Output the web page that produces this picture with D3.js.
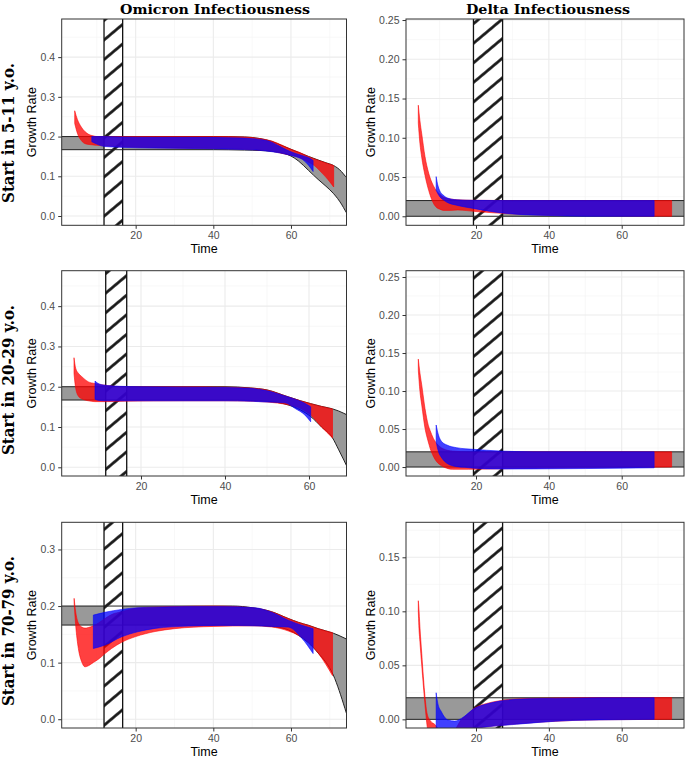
<!DOCTYPE html>
<html>
<head>
<meta charset="utf-8">
<script src="https://cdn.jsdelivr.net/npm/d3@7"></script>
<style>
  body { margin: 0; background: #fff; }
  svg { display: block; }
</style>
</head>
<body>
<svg id="chart"></svg>
<script>
// growth-rate bands, one ribbon per row: [time, lower, upper]
var colTitles = ['Omicron Infectiousness', 'Delta Infectiousness'];
var rowTitles = ['Start in 5-11 y.o.', 'Start in 20-29 y.o.', 'Start in 70-79 y.o.'];

// --- Omicron, 5-11
var omi511Gray = [[0,0.167,0.2],[40,0.167,0.2],[48,0.166,0.199],[52,0.165,0.195],[55,0.163,0.188],[58,0.158,0.176],[60,0.151,0.168],[62,0.138,0.16],[64.5,0.115,0.15],[67,0.092,0.141],[69,0.075,0.134],[71,0.056,0.127],[73,0.03,0.112],[74,0.013,0.1],[76,-0.02,0.08]];
var omi511Red = [[4.3,0.233,0.265],[5,0.208,0.243],[6,0.19,0.224],[7,0.182,0.212],[8,0.18,0.205],[9,0.179,0.202],[10,0.178,0.2],[15,0.175,0.2],[25,0.172,0.2],[40,0.17,0.2],[48,0.168,0.199],[52,0.166,0.195],[55,0.163,0.189],[58,0.157,0.177],[60,0.153,0.168],[62,0.148,0.161],[64,0.138,0.152],[66,0.127,0.144],[68,0.108,0.137],[69.5,0.092,0.132],[71,0.073,0.127]];
var omi511Blue = [[8.7,0.187,0.2],[10,0.181,0.2],[12,0.175,0.2],[16,0.173,0.199],[25,0.171,0.198],[34,0.17,0.198],[45,0.168,0.197],[51,0.166,0.194],[55,0.162,0.186],[57,0.159,0.176],[59,0.155,0.166],[61,0.15,0.158],[63,0.142,0.152],[64.5,0.128,0.147],[65.7,0.112,0.14]];

// --- Delta, 5-11
var del511Gray = [[0,0,0.02],[80,0,0.02]];
var del511Red = [[4.16,0.1185,0.1415],[4.6,0.093,0.122],[5.1,0.075,0.105],[6,0.052,0.076],[7,0.033,0.055],[8.3,0.0166,0.039],[9.2,0.011,0.032],[10.1,0.009,0.028],[11,0.0075,0.0246],[13,0.0075,0.022],[15,0.008,0.021],[20,0.006,0.0203],[30,0.003,0.02],[45,0.001,0.02],[73.7,0,0.02]];
var del511Blue = [[9.06,0.0333,0.0505],[9.5,0.029,0.04],[10.1,0.0247,0.032],[11,0.021,0.027],[12,0.018,0.0235],[14.7,0.014,0.021],[19.3,0.01,0.0203],[25,0.0055,0.0201],[30,0.003,0.02],[40,0.001,0.02],[50,0,0.02],[68.9,0,0.02]];

// --- Omicron, 20-29
var omi2029Gray = [[0,0.167,0.2],[40,0.167,0.2],[46,0.166,0.197],[50,0.164,0.192],[55,0.155,0.175],[58,0.142,0.165],[60.4,0.126,0.158],[63,0.1,0.151],[65.6,0.073,0.145],[67,0.045,0.14],[68.3,0.018,0.134],[70,-0.02,0.125]];
var omi2029Red = [[4.05,0.233,0.272],[4.45,0.196,0.246],[5.2,0.175,0.232],[5.9,0.17,0.225],[7.5,0.165,0.212],[9,0.163,0.208],[12,0.163,0.203],[16,0.164,0.2],[30,0.165,0.2],[40,0.165,0.199],[46,0.164,0.197],[50,0.162,0.192],[55,0.155,0.175],[58,0.146,0.165],[60.4,0.13,0.158],[63,0.1,0.151],[65.6,0.073,0.145]];
var omi2029Blue = [[9.05,0.169,0.214],[10,0.166,0.207],[12,0.165,0.203],[15,0.165,0.201],[20,0.165,0.2],[40,0.165,0.198],[46,0.164,0.196],[50,0.162,0.19],[54.3,0.16,0.177],[56.7,0.146,0.169],[59,0.13,0.159],[60.4,0.113,0.15]];

// --- Delta, 20-29
var del2029Gray = [[0,0,0.02],[80,0,0.02]];
var del2029Red = [[4.16,0.1276,0.142],[4.6,0.1,0.124],[5.1,0.0816,0.108],[6,0.051,0.077],[6.9,0.033,0.055],[7.4,0.0246,0.048],[8.3,0.014,0.0377],[9.2,0.007,0.031],[10.1,0.003,0.0267],[11,0.0004,0.024],[13.6,-0.003,0.021],[18,-0.003,0.02],[30,-0.002,0.02],[50,-0.001,0.02],[73.7,0,0.02]];
var del2029Blue = [[9.06,0.033,0.0553],[9.7,0.0201,0.042],[10.6,0.012,0.0333],[12,0.005,0.029],[14.7,0.0005,0.0254],[17,-0.0004,0.024],[19.3,-0.0015,0.0233],[26.6,-0.0026,0.021],[35.7,-0.0025,0.0201],[50,-0.002,0.02],[68.9,-0.001,0.02]];

// --- Omicron, 70-79
var omi7079Gray = [[0,0.1664,0.2],[45,0.1664,0.2],[50,0.166,0.197],[55,0.164,0.19],[59.3,0.158,0.178],[62,0.148,0.171],[64.5,0.135,0.166],[67,0.117,0.16],[70.9,0.078,0.152],[73.9,0.019,0.143],[76,-0.03,0.135]];
var omi7079Red = [[4.15,0.205,0.2136],[4.55,0.166,0.19],[5.24,0.125,0.17],[6.1,0.1015,0.163],[6.95,0.0926,0.161],[7.8,0.0944,0.162],[9.1,0.1003,0.165],[10.4,0.106,0.17],[12.1,0.116,0.178],[13.8,0.125,0.185],[16.4,0.136,0.19],[20,0.146,0.196],[25,0.155,0.198],[30,0.16,0.199],[40,0.164,0.2],[50,0.165,0.197],[55,0.163,0.19],[59.3,0.156,0.178],[62,0.148,0.171],[64.5,0.136,0.166],[67,0.117,0.16],[70.7,0.077,0.153]];
var omi7079Blue = [[9.1,0.125,0.184],[12.1,0.131,0.189],[16.4,0.1457,0.194],[20.5,0.1545,0.197],[25,0.1605,0.198],[33.6,0.1646,0.199],[42.2,0.1658,0.199],[50.7,0.165,0.197],[55,0.164,0.189],[59.3,0.1628,0.175],[62.8,0.143,0.166],[65.7,0.116,0.16]];

// --- Delta, 70-79
var del7079Gray = [[0,0,0.02],[80,0,0.02]];
var del7079Red = [[4.16,0.1,0.1098],[4.3,0.087,0.104],[4.6,0.072,0.0857],[5.1,0.05,0.0611],[5.55,0.031,0.0394],[6,0.0132,0.0209],[6.6,-0.0068,0.005],[7.4,-0.018,-0.001],[8.8,-0.028,-0.005],[10,-0.032,-0.01],[12,-0.03,-0.012],[14,-0.025,-0.01],[16,-0.018,0.0],[17.5,-0.013,0.004],[19.3,-0.0085,0.0098],[22.9,-0.0068,0.0147],[26.6,-0.0055,0.0173],[31.2,-0.0042,0.0189],[40.4,-0.002,0.0197],[54,-0.0004,0.0202],[73.7,0,0.0202]];
var del7079Blue = [[9.06,-0.012,0.0246],[9.5,-0.013,0.015],[10.5,-0.014,0.007],[12.3,-0.0145,-0.0006],[14.1,-0.014,-0.0016],[16,-0.012,0.0009],[19.6,-0.0085,0.0102],[22.9,-0.007,0.0142],[26.6,-0.0058,0.0169],[31.2,-0.0045,0.0185],[37.3,-0.0028,0.0192],[46.4,-0.001,0.0196],[54,-0.0005,0.02],[68.9,0,0.02]];

// shaded (hatched) windows
var omiHatch = [11.85, 16.65];
var omi2029Hatch = [11.6, 16.6];
var delHatch = [19.3, 27.3];

// axis ticks
var omiTicks = [0, 0.1, 0.2, 0.3, 0.4];
var omi7079Ticks = [0, 0.1, 0.2, 0.3];
var delTicks = [0, 0.05, 0.1, 0.15, 0.2, 0.25];
var del7079Ticks = [0, 0.05, 0.1, 0.15];
var timeTicks = [20, 40, 60];
var timeMinor = [0, 10, 30, 50, 70];

var svgwidth = 685, svgheight = 757;
var svg = d3.select('#chart').attr('width', svgwidth).attr('height', svgheight);

var colX = [[61.7, 346.5], [406, 684]];
var rowY = [[19, 225.3], [270.7, 476], [522.3, 728]];

var panels = [
  {row:0, col:0, gray:omi511Gray, red:omi511Red, blue:omi511Blue, hatch:omiHatch, xDom:[0.95,74.3], yDom:[-0.0234,0.496], ticks:omiTicks, fmt:'.1f'},
  {row:0, col:1, gray:del511Gray, red:del511Red, blue:del511Blue, hatch:delHatch, xDom:[0.78,77.1], yDom:[-0.0115,0.2513], ticks:delTicks, fmt:'.2f'},
  {row:1, col:0, gray:omi2029Gray, red:omi2029Red, blue:omi2029Blue, hatch:omi2029Hatch, xDom:[1.12,68.93], yDom:[-0.0216,0.488], ticks:omiTicks, fmt:'.1f'},
  {row:1, col:1, gray:del2029Gray, red:del2029Red, blue:del2029Blue, hatch:delHatch, xDom:[0.78,77.1], yDom:[-0.0118,0.2583], ticks:delTicks, fmt:'.2f'},
  {row:2, col:0, gray:omi7079Gray, red:omi7079Red, blue:omi7079Blue, hatch:omiHatch, xDom:[0.95,74.3], yDom:[-0.0155,0.348], ticks:omi7079Ticks, fmt:'.1f'},
  {row:2, col:1, gray:del7079Gray, red:del7079Red, blue:del7079Blue, hatch:delHatch, xDom:[0.78,77.1], yDom:[-0.008,0.1824], ticks:del7079Ticks, fmt:'.2f'}
];

var defs = svg.append('defs');
var pat = defs.append('pattern').attr('id', 'hatch')
  .attr('patternUnits', 'userSpaceOnUse')
  .attr('width', 15).attr('height', 15)
  .attr('patternTransform', 'rotate(-40)');
pat.append('line').attr('x1', 0).attr('y1', 7.5).attr('x2', 15).attr('y2', 7.5)
  .attr('stroke', '#111').attr('stroke-width', 2.7);

panels.forEach(function(p, k){
  var x0 = colX[p.col][0], x1 = colX[p.col][1];
  var y0 = rowY[p.row][0], y1 = rowY[p.row][1];

  var x = d3.scaleLinear().domain(p.xDom).range([x0, x1]);
  var y = d3.scaleLinear().domain(p.yDom).range([y1, y0]);

  defs.append('clipPath').attr('id', 'clip' + k)
    .append('rect').attr('x', x0).attr('y', y0).attr('width', x1 - x0).attr('height', y1 - y0);

  var g = svg.append('g');
  var plot = g.append('g').attr('clip-path', 'url(#clip' + k + ')');

  // minor grid
  var step = p.ticks[1] - p.ticks[0];
  var yMinor = d3.range(p.ticks[0] - step / 2, p.yDom[1], step).filter(function(v){ return v > p.yDom[0]; });
  plot.selectAll('.ymin').data(yMinor).enter().append('line')
    .attr('x1', x0).attr('x2', x1).attr('y1', function(d){ return y(d); }).attr('y2', function(d){ return y(d); })
    .attr('stroke', '#f3f3f3').attr('stroke-width', 0.6);
  plot.selectAll('.xmin').data(timeMinor).enter().append('line')
    .attr('y1', y0).attr('y2', y1).attr('x1', function(d){ return x(d); }).attr('x2', function(d){ return x(d); })
    .attr('stroke', '#f3f3f3').attr('stroke-width', 0.6);
  // major grid
  plot.selectAll('.ymaj').data(p.ticks).enter().append('line')
    .attr('x1', x0).attr('x2', x1).attr('y1', function(d){ return y(d); }).attr('y2', function(d){ return y(d); })
    .attr('stroke', '#ebebeb').attr('stroke-width', 1.1);
  plot.selectAll('.xmaj').data(timeTicks).enter().append('line')
    .attr('y1', y0).attr('y2', y1).attr('x1', function(d){ return x(d); }).attr('x2', function(d){ return x(d); })
    .attr('stroke', '#ebebeb').attr('stroke-width', 1.1);

  var band = d3.area().curve(d3.curveMonotoneX)
    .x(function(d){ return x(d[0]); })
    .y0(function(d){ return y(d[1]); })
    .y1(function(d){ return y(d[2]); });
  var loLine = d3.line().curve(d3.curveMonotoneX)
    .x(function(d){ return x(d[0]); }).y(function(d){ return y(d[1]); });
  var hiLine = d3.line().curve(d3.curveMonotoneX)
    .x(function(d){ return x(d[0]); }).y(function(d){ return y(d[2]); });

  // reference band
  plot.append('path').datum(p.gray).attr('d', band).attr('fill', '#999999');

  // hatched window
  var hx = x(p.hatch[0]), hw = x(p.hatch[1]) - x(p.hatch[0]);
  plot.append('rect').attr('x', hx).attr('y', y0 - 2).attr('width', hw).attr('height', y1 - y0 + 4)
    .attr('fill', '#fff');
  plot.append('rect').attr('x', hx).attr('y', y0 - 2).attr('width', hw).attr('height', y1 - y0 + 4)
    .attr('fill', 'url(#hatch)').attr('stroke', '#111').attr('stroke-width', 1.3);

  plot.append('path').datum(p.gray).attr('d', loLine).attr('fill', 'none').attr('stroke', '#222').attr('stroke-width', 1);
  plot.append('path').datum(p.gray).attr('d', hiLine).attr('fill', 'none').attr('stroke', '#222').attr('stroke-width', 1);

  plot.append('path').datum(p.red).attr('d', band)
    .attr('fill', 'rgba(255,0,0,0.75)').attr('stroke', 'rgba(255,0,0,0.8)').attr('stroke-width', 0.7);
  plot.append('path').datum(p.blue).attr('d', band)
    .attr('fill', 'rgba(0,0,255,0.75)').attr('stroke', 'rgba(0,0,255,0.8)').attr('stroke-width', 0.7);

  // border
  g.append('rect').attr('x', x0).attr('y', y0).attr('width', x1 - x0).attr('height', y1 - y0)
    .attr('fill', 'none').attr('stroke', '#333').attr('stroke-width', 1);

  // axes
  var ya = g.append('g').attr('transform', 'translate(' + x0 + ',0)')
    .call(d3.axisLeft(y).tickValues(p.ticks).tickFormat(d3.format(p.fmt)).tickSize(3.5).tickPadding(3));
  var xa = g.append('g').attr('transform', 'translate(0,' + y1 + ')')
    .call(d3.axisBottom(x).tickValues(timeTicks).tickFormat(d3.format('d')).tickSize(3.5).tickPadding(3));
  [ya, xa].forEach(function(a){
    a.select('.domain').remove();
    a.selectAll('.tick line').attr('stroke', '#333');
    a.selectAll('.tick text').attr('fill', '#4d4d4d')
      .style('font-family', 'Liberation Sans, Arial, sans-serif').style('font-size', '10.5px');
  });

  g.append('text').text('Time')
    .attr('x', (x0 + x1) / 2).attr('y', y1 + 27.5)
    .attr('text-anchor', 'middle')
    .style('font-family', 'Liberation Sans, Arial, sans-serif').style('font-size', '12.5px');
  g.append('text').text('Growth Rate')
    .attr('transform', 'translate(' + (x0 - (p.col == 0 ? 26 : 31)) + ',' + ((y0 + y1) / 2) + ') rotate(-90)')
    .attr('text-anchor', 'middle')
    .style('font-family', 'Liberation Sans, Arial, sans-serif').style('font-size', '12.5px');
});

// column titles, centred over the whole column cell
var colCentre = [215, 548];
var colWidth = [190, 164];
colTitles.forEach(function(t, i){
  svg.append('text').text(t)
    .attr('x', colCentre[i]).attr('y', 14)
    .attr('text-anchor', 'middle')
    .attr('textLength', colWidth[i]).attr('lengthAdjust', 'spacingAndGlyphs')
    .style('font-family', 'DejaVu Serif, serif').style('font-weight', 'bold').style('font-size', '13.5px');
});

// row titles, centred over the row cell (plot + time axis)
var rowCentre = [133, 380, 631];
var rowWidth = [140, 150, 150];
rowTitles.forEach(function(t, i){
  svg.append('text').text(t)
    .attr('transform', 'translate(14,' + rowCentre[i] + ') rotate(-90)')
    .attr('text-anchor', 'middle')
    .attr('textLength', rowWidth[i]).attr('lengthAdjust', 'spacingAndGlyphs')
    .style('font-family', 'DejaVu Serif, serif').style('font-weight', 'bold').style('font-size', '16.5px');
});
</script>
</body>
</html>
